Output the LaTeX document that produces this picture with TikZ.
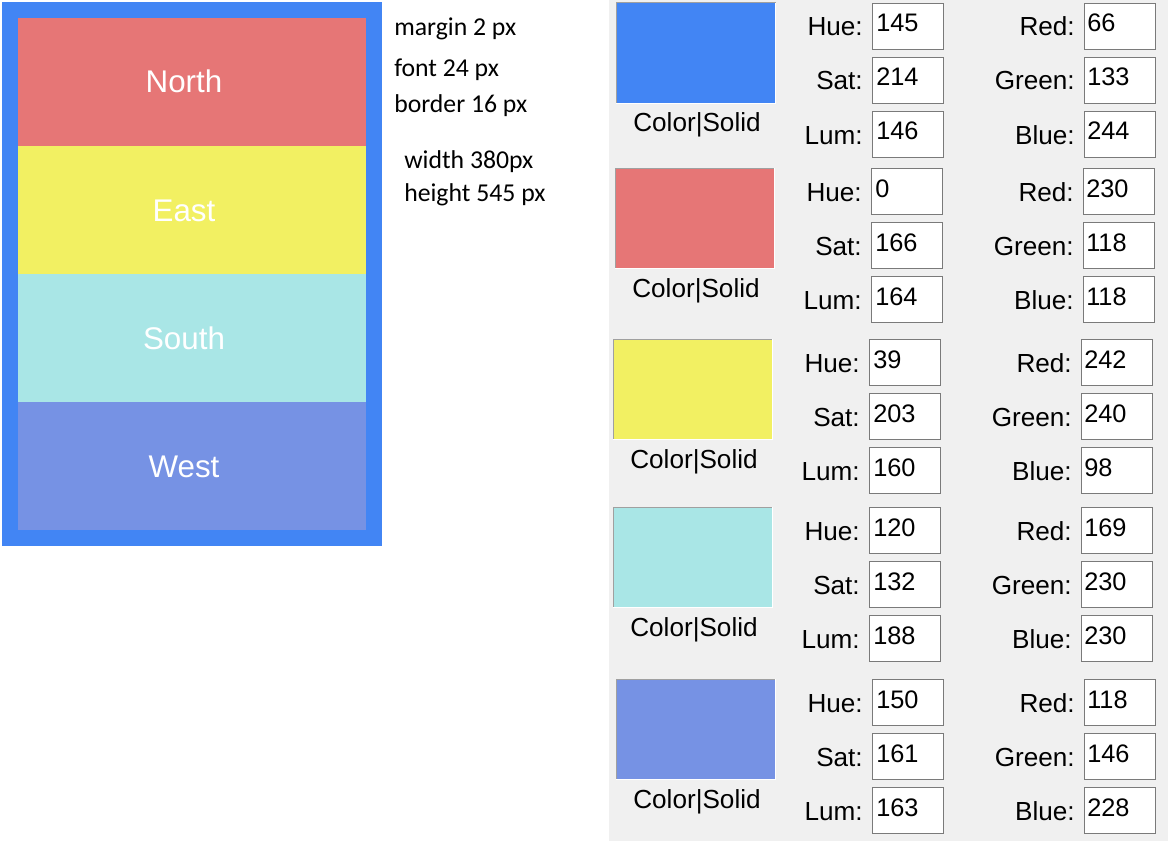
\documentclass[tikz,border=0pt]{standalone}
\usepackage{fontspec}
\setmainfont{Liberation Sans}
\newfontfamily\notefont{Carlito}
\definecolor{frameblue}{RGB}{66,133,244}
\definecolor{northred}{RGB}{230,118,118}
\definecolor{eastyellow}{RGB}{242,240,98}
\definecolor{southcyan}{RGB}{169,230,230}
\definecolor{westblue}{RGB}{118,146,228}
\definecolor{panelgray}{RGB}{240,240,240}
\definecolor{boxedge}{RGB}{122,122,122}
\definecolor{swatchedge}{RGB}{160,160,160}
\begin{document}
\begin{tikzpicture}[x=0.75pt,y=-0.75pt,
  stripetext/.style={text=white,inner sep=0pt,anchor=base,font=\fontsize{23.5}{23.5}\selectfont},
  note/.style={inner sep=0pt,anchor=base west,font=\notefont\fontsize{19.3}{19.3}\selectfont},
  swatch/.style={inner sep=0pt,anchor=north west,minimum width=119.25pt,minimum height=75pt},
  valbox/.style={draw=boxedge,fill=white,line width=0.75pt,inner sep=0pt,anchor=north west,
                 minimum width=53.25pt,minimum height=34.5pt},
  caption/.style={inner sep=0pt,anchor=base,font=\fontsize{19.6}{19.6}\selectfont},
  fieldlabel/.style={inner sep=0pt,anchor=base east,font=\fontsize{19.6}{19.6}\selectfont},
  fieldvalue/.style={inner sep=0pt,anchor=base west,font=\fontsize{19}{19}\selectfont}]
\useasboundingbox (0,0) rectangle (1168,849);
\fill[white] (0,0) rectangle (1168,849);

% framed panel with four stripes
\fill[frameblue] (2,2) rectangle (382,546);
\fill[northred]   (18,18)  rectangle (366,146);
\fill[eastyellow] (18,146) rectangle (366,274);
\fill[southcyan]  (18,274) rectangle (366,402);
\fill[westblue]   (18,402) rectangle (366,530);
\node[stripetext] (north) at (184,93)  {North};
\node[stripetext] (east)  at (184,221) {East};
\node[stripetext] (south) at (184,349) {South};
\node[stripetext] (west)  at (184,477) {West};

% notes on the panel settings
\node[note] (margin) at (394,36)  {margin 2 px};
\node[note] (font)   at (394,77)  {font 24 px};
\node[note] (border) at (394,113) {border 16 px};
\node[note] (width)  at (404,168) {width 380px};
\node[note] (height) at (404,201) {height 545 px};

% colour dialog area
\fill[panelgray] (609,0) rectangle (1168,841);

\foreach \dx/\gy/\col/\vh/\vs/\vl/\vr/\vg/\vb [count=\k] in
  {0/3/frameblue/145/214/146/66/133/244,
   -1/168/northred/0/166/164/230/118/118,
   -3/339/eastyellow/39/203/160/242/240/98,
   -3/507/southcyan/120/132/188/169/230/230,
   0/679/westblue/150/161/163/118/146/228}
{
  \node[swatch,fill=\col] (sw\k) at (616+\dx,\gy) {};
  \draw[swatchedge,line width=0.75pt] (sw\k.south west) -- (sw\k.north west) -- (sw\k.north east);
  \draw[white,line width=0.75pt] (sw\k.north east) -- (sw\k.south east) -- (sw\k.south west);
  \node[caption] (cap\k) at (697+\dx,\gy+129) {Color|Solid};

  \node[valbox] (hue\k) at (872+\dx,\gy)     {};
  \node[valbox] (sat\k) at (872+\dx,\gy+54)  {};
  \node[valbox] (lum\k) at (872+\dx,\gy+108) {};
  \node[valbox] (red\k) at (1084+\dx,\gy)     {};
  \node[valbox] (grn\k) at (1084+\dx,\gy+54)  {};
  \node[valbox] (blu\k) at (1084+\dx,\gy+108) {};

  \node[fieldlabel] (huel\k) at (863+\dx,\gy+33)  {Hue:};
  \node[fieldlabel] (satl\k) at (863+\dx,\gy+87)  {Sat:};
  \node[fieldlabel] (luml\k) at (863+\dx,\gy+141) {Lum:};
  \node[fieldlabel] (redl\k) at (1075+\dx,\gy+33)  {Red:};
  \node[fieldlabel] (grnl\k) at (1075+\dx,\gy+87)  {Green:};
  \node[fieldlabel] (blul\k) at (1075+\dx,\gy+141) {Blue:};

  \node[fieldvalue] (huev\k) at (876+\dx,\gy+29)  {\vh};
  \node[fieldvalue] (satv\k) at (876+\dx,\gy+83)  {\vs};
  \node[fieldvalue] (lumv\k) at (876+\dx,\gy+137) {\vl};
  \node[fieldvalue] (redv\k) at (1087+\dx,\gy+29)  {\vr};
  \node[fieldvalue] (grnv\k) at (1087+\dx,\gy+83)  {\vg};
  \node[fieldvalue] (bluv\k) at (1087+\dx,\gy+137) {\vb};
}
\end{tikzpicture}
\end{document}
